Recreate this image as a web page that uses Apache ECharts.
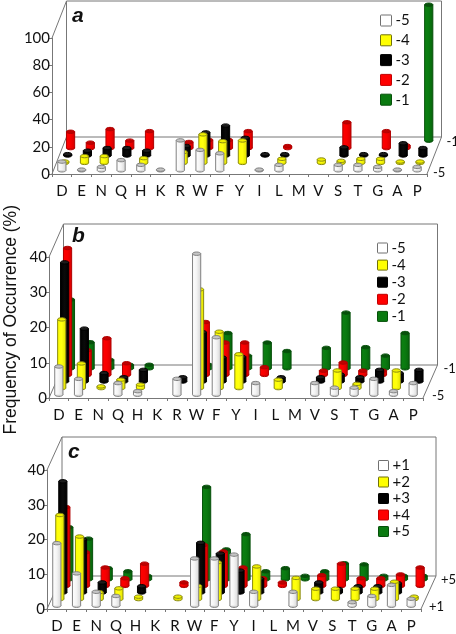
<!DOCTYPE html>
<html><head><meta charset="utf-8">
<style>html,body{margin:0;padding:0;background:#fff}#c{width:456px;height:634px;filter:blur(0.45px)}</style>
<script src="https://cdn.jsdelivr.net/npm/echarts@6/dist/echarts.min.js"></script>
</head><body><div id="c"></div>
<script>
const CATEGORIES = ['D','E','N','Q','H','K','R','W','F','Y','I','L','M','V','S','T','G','A','P'];
const _ = null;
// Panel a (positions -5 ... -1)
const A_M5 = [6.4,0.5,2.5,7.5,4,0.5,22,15,12.5,_,0.5,4,_,_,4,4,2.5,0.5,2.5];
const A_M4 = [1,5,5,_,3.5,_,8,21,16,16.5,_,3,_,2.5,1.5,3,3,1,1];
const A_M3 = [1,3.5,5.5,5.5,3.5,_,7,17,22,13,1,1,_,_,6,1,1,9,5.5];
const A_M2 = [12,4,14,5.5,12.5,_,4.5,6,6,12.5,_,1.5,_,_,19,_,12.5,2,_];
const A_M1 = [_,_,_,_,_,_,_,_,_,_,_,_,_,_,_,_,_,_,100];
// Panel b (positions -5 ... -1)
const B_M5 = [8,4.5,_,3.3,1,_,4.5,40,16.3,_,3.3,_,_,3.3,2,2,4.5,1,3.3];
const B_M4 = [19.5,7,0.5,2.4,1,_,_,28,16,9.6,_,2.4,_,_,5,1.2,_,5,_];
const B_M3 = [33.8,15,2.4,1.2,3.3,_,1.2,14,6.8,7,_,1.2,_,1.2,2,1.2,3.3,2.4,3.3];
const B_M2 = [36,7,10.4,3.3,_,_,_,15,9.2,9.2,2.2,_,_,1.2,3.5,1.2,1.2,_,_];
const B_M1 = [19.5,7.4,2.4,1,1,_,_,1,10,3.6,7.3,4.9,_,5.8,15.8,6,3.6,10,_];
// Panel c (positions +1 ... +5)
const C_P1 = [18,9.3,4,2.8,_,_,_,13.6,13.6,14.7,4,_,4,_,_,1,2.8,6,2];
const C_P2 = [24.2,18,2,3.1,0.7,_,0.7,3.8,10.6,_,9.4,_,6.1,3,3,3,3,5,0.7];
const C_P3 = [32,15.3,2.9,_,1.8,_,_,14.3,11.2,6.3,4,_,_,2.9,1,1.8,1.8,2.7,_];
const C_P4 = [22.7,9.7,5.3,2.2,6.4,_,1,11.8,9.9,5.3,2.2,1,_,3.1,6.4,2.2,2.2,3.3,5.3];
const C_P5 = [15,11.7,3.2,2.3,1,_,_,26.6,8.6,13,2.3,3.2,1,2.3,4.6,4.3,1,1,1];

const NAMES_A = ['-5','-4','-3','-2','-1'];
const NAMES_C = ['+1','+2','+3','+4','+5'];

const STYLES = [
  {fill:['#ffffff','#f4f4f4','#d8d8d8'], stroke:'#808080', top:'#c4c4c4', legend:'#ffffff', border:'#707070'},
  {fill:['#ffff00','#ffff10','#e4e400'], stroke:'#8a8a10', top:'#f0f000', legend:'#ffff00', border:'#70700a'},
  {fill:['#000000','#0a0a0a','#000000'], stroke:'#000000', top:'#1c1c1c', legend:'#000000', border:'#000000'},
  {fill:['#ff0000','#f80000','#d80000'], stroke:'#b00000', top:'#c00000', legend:'#ff0000', border:'#c00000'},
  {fill:['#0c8012','#0a7a10','#07650c'], stroke:'#06500a', top:'#06500a', legend:'#0a7a10', border:'#06500a'}
];

const PANELS = [
  {names:NAMES_A, rows:[A_M5,A_M4,A_M3,A_M2,A_M1], left:52, width:375, top:38, height:136, max:100, interval:20, dx:14.5, dy:37,
   legendTop:13, legendGap:4.8, legendLeft:380, legendSize:11, letter:'a', lx:78, ly:16, backL:[5,5], frontL:[6,-1]},
  {names:NAMES_A, rows:[B_M5,B_M4,B_M3,B_M2,B_M1], left:49, width:374, top:257, height:141, max:40, interval:10, dx:14.5, dy:33,
   legendTop:240.5, legendGap:2.1, legendLeft:377, legendSize:10, letter:'b', lx:78, ly:236, backL:[6,4], frontL:[9,-2]},
  {names:NAMES_C, rows:[C_P1,C_P2,C_P3,C_P4,C_P5], left:47, width:374, top:470, height:142, max:40, interval:10, dx:15, dy:33,
   legendTop:458, legendGap:1.5, legendLeft:378, legendSize:10, letter:'c', lx:74, ly:452, backL:[5,4], frontL:[8,-2]}
];

const LINE = '#777777';
const LEGEND_ICON = 'path://M0.6,0H9.4Q10,0 10,0.6V9.4Q10,10 9.4,10H0.6Q0,10 0,9.4V0.6Q0,0 0.6,0Z';
function seg(a,b){return {type:'line',shape:{x1:a[0],y1:a[1],x2:b[0],y2:b[1]},style:{stroke:LINE,lineWidth:1,fill:null},silent:true};}

function frameRenderer(p){
  return function(params,api){
    const c=params.coordSys;
    const l=c.x,r=c.x+c.width,t=c.y,b=c.y+c.height;
    const dx=p.dx,dy=p.dy;
    const kids=[
      {type:'rect',shape:{x:l+dx,y:t-dy,width:r-l,height:b-t},style:{stroke:LINE,lineWidth:1,fill:null}},
      seg([l,t],[l+dx,t-dy]),
      seg([l,b],[l+dx,b-dy]),
      seg([r,b],[r+dx,b-dy]),
      {type:'text',style:{text:p.names[4],x:r+dx+p.backL[0],y:b-dy+p.backL[1],font:'13px Lato',fill:'#111',textVerticalAlign:'middle'}},
      {type:'text',style:{text:p.names[0],x:r+p.frontL[0],y:b+p.frontL[1],font:'13px Lato',fill:'#111',textVerticalAlign:'middle'}}
    ];
    return {type:'group',children:kids};
  };
}

function barRenderer(p,row){
  const st=STYLES[row];
  return function(params,api){
    const v=api.value(1);
    if(v==null||isNaN(v))return null;
    const cat=api.value(0);
    const base=api.coord([cat,0]), top=api.coord([cat,v]);
    const ox=p.dx*row/5, oy=p.dy*(row+0.5)/5;
    const cx=base[0]+ox, by=base[1]-oy, ty=top[1]-oy;
    const rx=4.1, ry=1.7;
    const grad={type:'linear',x:0,y:0,x2:1,y2:0,colorStops:[{offset:0,color:st.fill[0]},{offset:0.5,color:st.fill[1]},{offset:1,color:st.fill[2]}]};
    const kids=[
      {type:'ellipse',shape:{cx:cx,cy:by,rx:rx,ry:ry},style:{fill:st.fill[2],stroke:st.stroke,lineWidth:1}},
      {type:'rect',shape:{x:cx-rx,y:ty,width:rx*2,height:by-ty},style:{fill:grad,stroke:null}},
      {type:'line',shape:{x1:cx-rx,y1:ty,x2:cx-rx,y2:by},style:{stroke:st.stroke,lineWidth:1}},
      {type:'line',shape:{x1:cx+rx,y1:ty,x2:cx+rx,y2:by},style:{stroke:st.stroke,lineWidth:1}},
      {type:'ellipse',shape:{cx:cx,cy:ty,rx:rx,ry:ry},style:{fill:st.top,stroke:st.stroke,lineWidth:1}}
    ];
    return {type:'group',children:kids};
  };
}

const option={animation:false,backgroundColor:'#fff',grid:[],xAxis:[],yAxis:[],legend:[],series:[],graphic:[]};
PANELS.forEach((p,k)=>{
  option.grid.push({left:p.left,top:p.top,width:p.width,height:p.height,containLabel:false});
  option.xAxis.push({type:'category',gridIndex:k,data:CATEGORIES,boundaryGap:true,
    axisLine:{lineStyle:{color:LINE,width:1}},axisTick:{show:true,length:3,alignWithLabel:false,interval:0,lineStyle:{color:LINE}},
    axisLabel:{interval:0,color:'#111',fontFamily:'Lato',fontSize:15,margin:10}});
  option.yAxis.push({type:'value',gridIndex:k,min:0,max:p.max,interval:p.interval,splitLine:{show:false},
    axisLine:{show:true,lineStyle:{color:LINE,width:1}},axisTick:{show:true,length:3,lineStyle:{color:LINE}},
    axisLabel:{color:'#111',fontFamily:'Lato',fontSize:15,margin:2}});
  option.series.push({type:'custom',name:'frame'+k,xAxisIndex:k,yAxisIndex:k,z:1,silent:true,clip:false,
    data:[[CATEGORIES[0],0]],renderItem:frameRenderer(p),encode:{x:0,y:1}});
  p.rows.forEach((vals,row)=>{
    option.series.push({type:'custom',name:p.names[row],xAxisIndex:k,yAxisIndex:k,z:10-row,clip:false,silent:true,
      encode:{x:0,y:1},itemStyle:{color:STYLES[row].legend,borderColor:STYLES[row].border,borderWidth:1},
      data:vals.map((v,i)=>[CATEGORIES[i],v==null?'-':v]),renderItem:barRenderer(p,row)});
  });
  option.legend.push({show:true,orient:'vertical',left:p.legendLeft,top:p.legendTop,padding:0,selectedMode:false,
    itemWidth:p.legendSize,itemHeight:p.legendSize,itemGap:p.legendGap,icon:LEGEND_ICON,
    data:p.names,itemStyle:{borderWidth:1},
    textStyle:{fontFamily:'Lato',fontSize:15,color:'#111',padding:[0,0,0,-1]}});
  option.graphic.push({type:'text',left:p.lx-6,top:p.ly-10,silent:true,
    style:{text:p.letter,font:'italic bold 21px "Liberation Sans"',fill:'#111'}});
});
option.graphic.push({type:'text',silent:true,rotation:Math.PI/2,x:0,y:0,
  left:2,top:205,
  style:{text:'Frequency of Occurrence (%)',font:'17.5px "Liberation Sans"',fill:'#111'}});
const chart=echarts.init(document.getElementById('c'),null,{renderer:'canvas',width:456,height:634});
chart.setOption(option);
</script></body></html>
